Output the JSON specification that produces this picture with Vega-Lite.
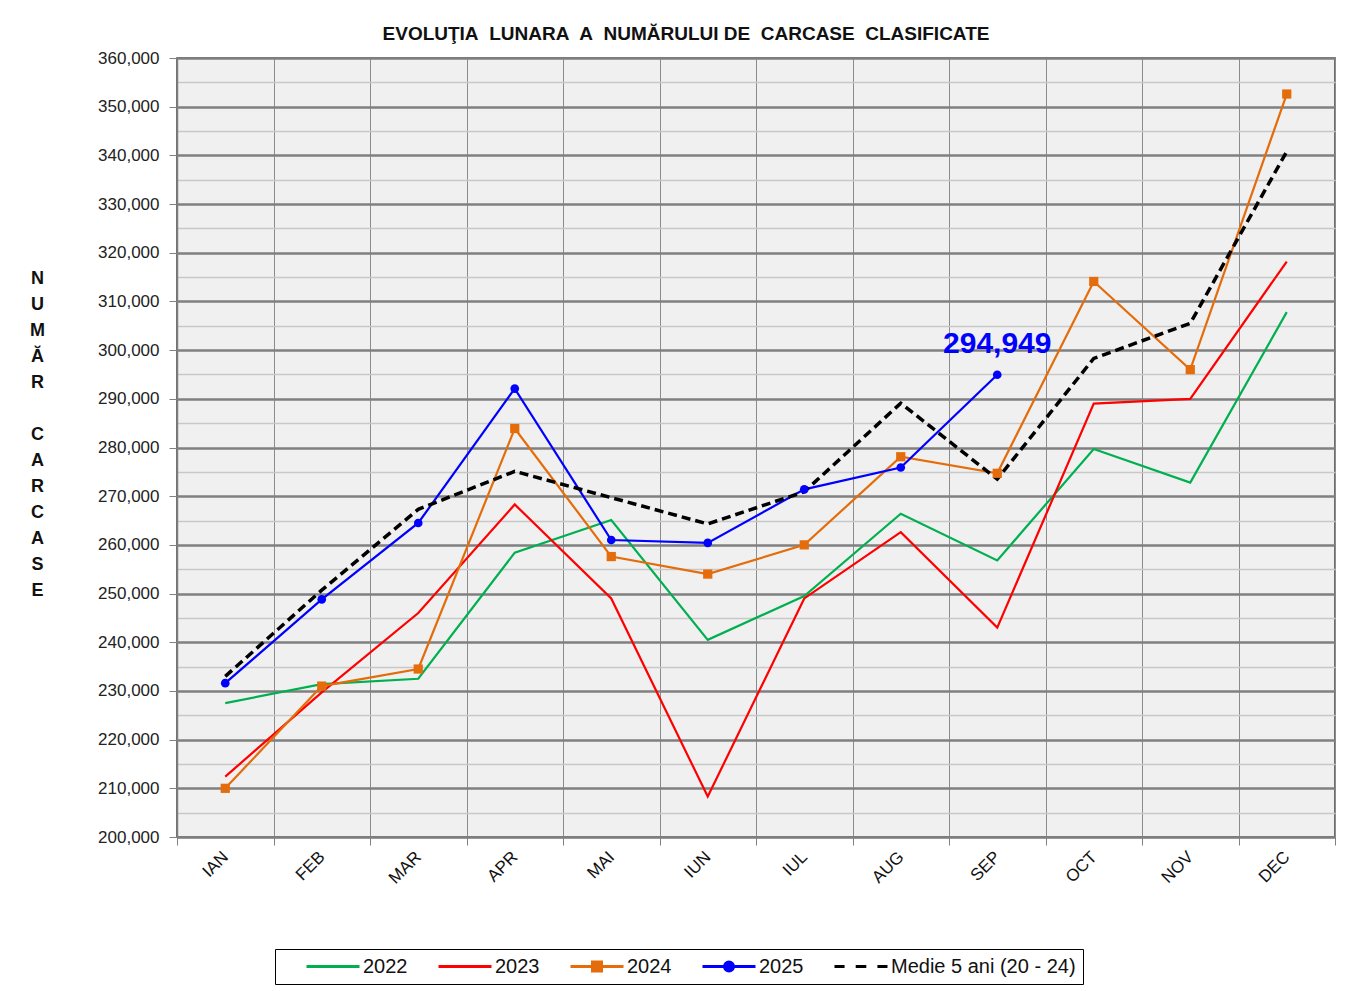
{
  "$schema": "https://vega.github.io/schema/vega-lite/v6.json",
  "width": 1158,
  "height": 779,
  "autosize": {"type": "none"},
  "padding": {"left": 177, "top": 58, "right": 35, "bottom": 154},
  "background": "white",
  "title": {
    "text": "EVOLUŢIA\u00a0 LUNARA\u00a0 A\u00a0 NUMĂRULUI DE\u00a0 CARCASE\u00a0 CLASIFICATE",
    "font": "Liberation Sans",
    "fontSize": 19,
    "fontWeight": "bold",
    "color": "#111111",
    "anchor": "middle",
    "dx": -70,
    "dy": 28,
    "baseline": "alphabetic",
    "offset": 18
  },
  "data": {
    "values": [
      {"month": "IAN", "series": "2022", "value": 227500},
      {"month": "FEB", "series": "2022", "value": 231400},
      {"month": "MAR", "series": "2022", "value": 232500},
      {"month": "APR", "series": "2022", "value": 258400},
      {"month": "MAI", "series": "2022", "value": 265100},
      {"month": "IUN", "series": "2022", "value": 240500},
      {"month": "IUL", "series": "2022", "value": 249500},
      {"month": "AUG", "series": "2022", "value": 266400},
      {"month": "SEP", "series": "2022", "value": 256800},
      {"month": "OCT", "series": "2022", "value": 279700},
      {"month": "NOV", "series": "2022", "value": 272800},
      {"month": "DEC", "series": "2022", "value": 307800},
      {"month": "IAN", "series": "2023", "value": 212400},
      {"month": "FEB", "series": "2023", "value": 229700},
      {"month": "MAR", "series": "2023", "value": 246000},
      {"month": "APR", "series": "2023", "value": 268300},
      {"month": "MAI", "series": "2023", "value": 249000},
      {"month": "IUN", "series": "2023", "value": 208300},
      {"month": "IUL", "series": "2023", "value": 249000},
      {"month": "AUG", "series": "2023", "value": 262600},
      {"month": "SEP", "series": "2023", "value": 243000},
      {"month": "OCT", "series": "2023", "value": 289000},
      {"month": "NOV", "series": "2023", "value": 290000},
      {"month": "DEC", "series": "2023", "value": 318200},
      {"month": "IAN", "series": "2024", "value": 210000},
      {"month": "FEB", "series": "2024", "value": 231000},
      {"month": "MAR", "series": "2024", "value": 234500},
      {"month": "APR", "series": "2024", "value": 283900},
      {"month": "MAI", "series": "2024", "value": 257600},
      {"month": "IUN", "series": "2024", "value": 254000},
      {"month": "IUL", "series": "2024", "value": 260000},
      {"month": "AUG", "series": "2024", "value": 278100},
      {"month": "SEP", "series": "2024", "value": 274700},
      {"month": "OCT", "series": "2024", "value": 314100},
      {"month": "NOV", "series": "2024", "value": 296000},
      {"month": "DEC", "series": "2024", "value": 352600},
      {"month": "IAN", "series": "2025", "value": 231600},
      {"month": "FEB", "series": "2025", "value": 248800},
      {"month": "MAR", "series": "2025", "value": 264500},
      {"month": "APR", "series": "2025", "value": 292100},
      {"month": "MAI", "series": "2025", "value": 261000},
      {"month": "IUN", "series": "2025", "value": 260400},
      {"month": "IUL", "series": "2025", "value": 271400},
      {"month": "AUG", "series": "2025", "value": 275900},
      {"month": "SEP", "series": "2025", "value": 294949},
      {"month": "IAN", "series": "Medie 5 ani (20 - 24)", "value": 233000},
      {"month": "FEB", "series": "Medie 5 ani (20 - 24)", "value": 250700},
      {"month": "MAR", "series": "Medie 5 ani (20 - 24)", "value": 267300},
      {"month": "APR", "series": "Medie 5 ani (20 - 24)", "value": 275100},
      {"month": "MAI", "series": "Medie 5 ani (20 - 24)", "value": 269700},
      {"month": "IUN", "series": "Medie 5 ani (20 - 24)", "value": 264300},
      {"month": "IUL", "series": "Medie 5 ani (20 - 24)", "value": 270900},
      {"month": "AUG", "series": "Medie 5 ani (20 - 24)", "value": 289100},
      {"month": "SEP", "series": "Medie 5 ani (20 - 24)", "value": 273500},
      {"month": "OCT", "series": "Medie 5 ani (20 - 24)", "value": 298300},
      {"month": "NOV", "series": "Medie 5 ani (20 - 24)", "value": 305500},
      {"month": "DEC", "series": "Medie 5 ani (20 - 24)", "value": 340800}
    ]
  },
  "encoding": {
    "x": {
      "field": "month",
      "type": "nominal",
      "sort": ["IAN", "FEB", "MAR", "APR", "MAI", "IUN", "IUL", "AUG", "SEP", "OCT", "NOV", "DEC"],
      "scale": {"paddingInner": 0, "paddingOuter": 0},
      "axis": {
        "title": null,
        "tickBand": "extent",
        "grid": true,
        "gridColor": "#8c8c8c",
        "gridWidth": 1,
        "domainColor": "#808080",
        "domainWidth": 1.5,
        "tickColor": "#808080",
        "tickSize": 8,
        "labelAngle": -45,
        "labelAlign": "right",
        "labelBaseline": "middle",
        "labelPadding": 9,
        "labelFont": "Liberation Sans",
        "labelFontSize": 17,
        "labelColor": "#111111"
      }
    },
    "y": {
      "field": "value",
      "type": "quantitative",
      "scale": {"domain": [200000, 360000], "nice": false, "zero": false},
      "axis": {
        "title": ["N", "U", "M", "Ă", "R", "\u200b", "C", "A", "R", "C", "A", "S", "E"],
        "titleAngle": 0,
        "titleX": -140,
        "titleY": 220,
        "titleAlign": "center",
        "titleBaseline": "middle",
        "titleLineHeight": 26,
        "titleFont": "Liberation Sans",
        "titleFontSize": 18,
        "titleFontWeight": "bold",
        "titleColor": "#111111",
        "values": [200000, 205000, 210000, 215000, 220000, 225000, 230000, 235000, 240000, 245000, 250000, 255000, 260000, 265000, 270000, 275000, 280000, 285000, 290000, 295000, 300000, 305000, 310000, 315000, 320000, 325000, 330000, 335000, 340000, 345000, 350000, 355000, 360000],
        "labelExpr": "datum.value % 10000 === 0 ? format(datum.value, ',') : ''",
        "grid": true,
        "gridColor": {"condition": {"test": "datum.value % 10000 === 0", "value": "#808080"}, "value": "#c8c8c8"},
        "gridWidth": {"condition": {"test": "datum.value % 10000 === 0", "value": 2.5}, "value": 1.5},
        "tickOpacity": {"condition": {"test": "datum.value % 10000 === 0", "value": 1}, "value": 0},
        "tickColor": "#808080",
        "tickSize": 8,
        "labelPadding": 10,
        "labelFont": "Liberation Sans",
        "labelFontSize": 17,
        "labelColor": "#222222",
        "domainColor": "#808080",
        "domainWidth": 1.5
      }
    }
  },
  "layer": [
    {
      "transform": [{"filter": "datum.series !== 'Medie 5 ani (20 - 24)'"}],
      "mark": {"type": "line", "strokeWidth": 2.2},
      "encoding": {
        "color": {
          "field": "series",
          "type": "nominal",
          "scale": {
            "range": ["#00b050", "#ff0000", "#e46c0a", "#0000ff", "#000000"]
          },
          "legend": null
        }
      }
    },
    {
      "transform": [{"filter": "datum.series === 'Medie 5 ani (20 - 24)'"}],
      "mark": {"type": "line", "strokeWidth": 3.5, "strokeDash": [9, 5]},
      "encoding": {
        "color": {"field": "series", "type": "nominal", "legend": null}
      }
    },
    {
      "transform": [{"filter": "datum.series === '2024'"}],
      "mark": {"type": "point", "shape": "square", "filled": true, "size": 85, "opacity": 1},
      "encoding": {
        "color": {"field": "series", "type": "nominal", "legend": null}
      }
    },
    {
      "transform": [{"filter": "datum.series === '2025'"}],
      "mark": {"type": "point", "shape": "circle", "filled": true, "size": 75, "opacity": 1},
      "encoding": {
        "color": {"field": "series", "type": "nominal", "legend": null}
      }
    },
    {
      "transform": [{"filter": "datum.series === '2025' && datum.month === 'SEP'"}],
      "mark": {"type": "text", "dy": -22, "baseline": "alphabetic", "align": "center", "font": "Liberation Sans", "fontSize": 30, "fontWeight": "bold", "color": "#0000ff"},
      "encoding": {
        "text": {"field": "value", "type": "quantitative", "format": ","}
      }
    },
    {
      "mark": {"type": "point", "filled": true, "opacity": 0},
      "encoding": {
        "fill": {
          "field": "series",
          "type": "nominal",
          "title": null,
          "scale": {
            "domain": ["2022", "2023", "2024", "2025", "Medie 5 ani (20 - 24)"],
            "range": ["#00b050", "#ff0000", "#e46c0a", "#0000ff", "#000000"]
          },
          "legend": {
            "orient": "none",
            "legendX": 98,
            "legendY": 891,
            "direction": "horizontal",
            "title": null,
            "padding": 7,
            "strokeColor": "#000000",
            "fillColor": "#ffffff",
            "symbolSize": 2809,
            "symbolStrokeWidth": 3,
            "symbolFillColor": "#000000",
            "symbolOffset": 23,
            "labelOffset": 2,
            "columnPadding": 6,
            "clipHeight": 21,
            "labelLimit": 400,
            "labelExpr": "datum.value === 'Medie 5 ani (20 - 24)' ? '\u00a0' + datum.label + '\u00a0\u00a0\u00a0\u00a0\u00a0\u00a0' : datum.label",
            "labelFont": "Liberation Sans",
            "labelFontSize": 20,
            "labelColor": "#111111"
          }
        },
        "stroke": {
          "field": "series",
          "type": "nominal",
          "title": null,
          "scale": {
            "domain": ["2022", "2023", "2024", "2025", "Medie 5 ani (20 - 24)"],
            "range": ["#00b050", "#ff0000", "#e46c0a", "#0000ff", "#000000"]
          },
          "legend": {
            "orient": "none",
            "legendX": 98,
            "legendY": 891,
            "direction": "horizontal",
            "title": null,
            "padding": 7,
            "strokeColor": "#000000",
            "fillColor": "#ffffff",
            "symbolSize": 2809,
            "symbolStrokeWidth": 3,
            "symbolFillColor": "#000000",
            "symbolOffset": 23,
            "labelOffset": 2,
            "columnPadding": 6,
            "clipHeight": 21,
            "labelLimit": 400,
            "labelExpr": "datum.value === 'Medie 5 ani (20 - 24)' ? '\u00a0' + datum.label + '\u00a0\u00a0\u00a0\u00a0\u00a0\u00a0' : datum.label",
            "labelFont": "Liberation Sans",
            "labelFontSize": 20,
            "labelColor": "#111111"
          }
        },
        "shape": {
          "field": "series",
          "type": "nominal",
          "title": null,
          "scale": {
            "domain": ["2022", "2023", "2024", "2025", "Medie 5 ani (20 - 24)"],
            "range": [
              "M-1,0L1,0",
              "M-1,0L1,0",
              "M-1,0L1,0M-0.17,-0.17L0.17,-0.17L0.17,0.17L-0.17,0.17Z",
              "M-1,0L1,0M0.17,0A0.17,0.17,0,1,1,-0.17,0A0.17,0.17,0,1,1,0.17,0Z",
              "M-1,0L-0.62,0M-0.2,0L0.2,0M0.62,0L1,0"
            ]
          },
          "legend": {
            "orient": "none",
            "legendX": 98,
            "legendY": 891,
            "direction": "horizontal",
            "title": null,
            "padding": 7,
            "strokeColor": "#000000",
            "fillColor": "#ffffff",
            "symbolSize": 2809,
            "symbolStrokeWidth": 3,
            "symbolFillColor": "#000000",
            "symbolOffset": 23,
            "labelOffset": 2,
            "columnPadding": 6,
            "clipHeight": 21,
            "labelLimit": 400,
            "labelExpr": "datum.value === 'Medie 5 ani (20 - 24)' ? '\u00a0' + datum.label + '\u00a0\u00a0\u00a0\u00a0\u00a0\u00a0' : datum.label",
            "labelFont": "Liberation Sans",
            "labelFontSize": 20,
            "labelColor": "#111111"
          }
        }
      }
    }
  ],
  "config": {
    "view": {"fill": "#f0f0f0", "stroke": "#404040", "strokeWidth": 1.5}
  }
}
